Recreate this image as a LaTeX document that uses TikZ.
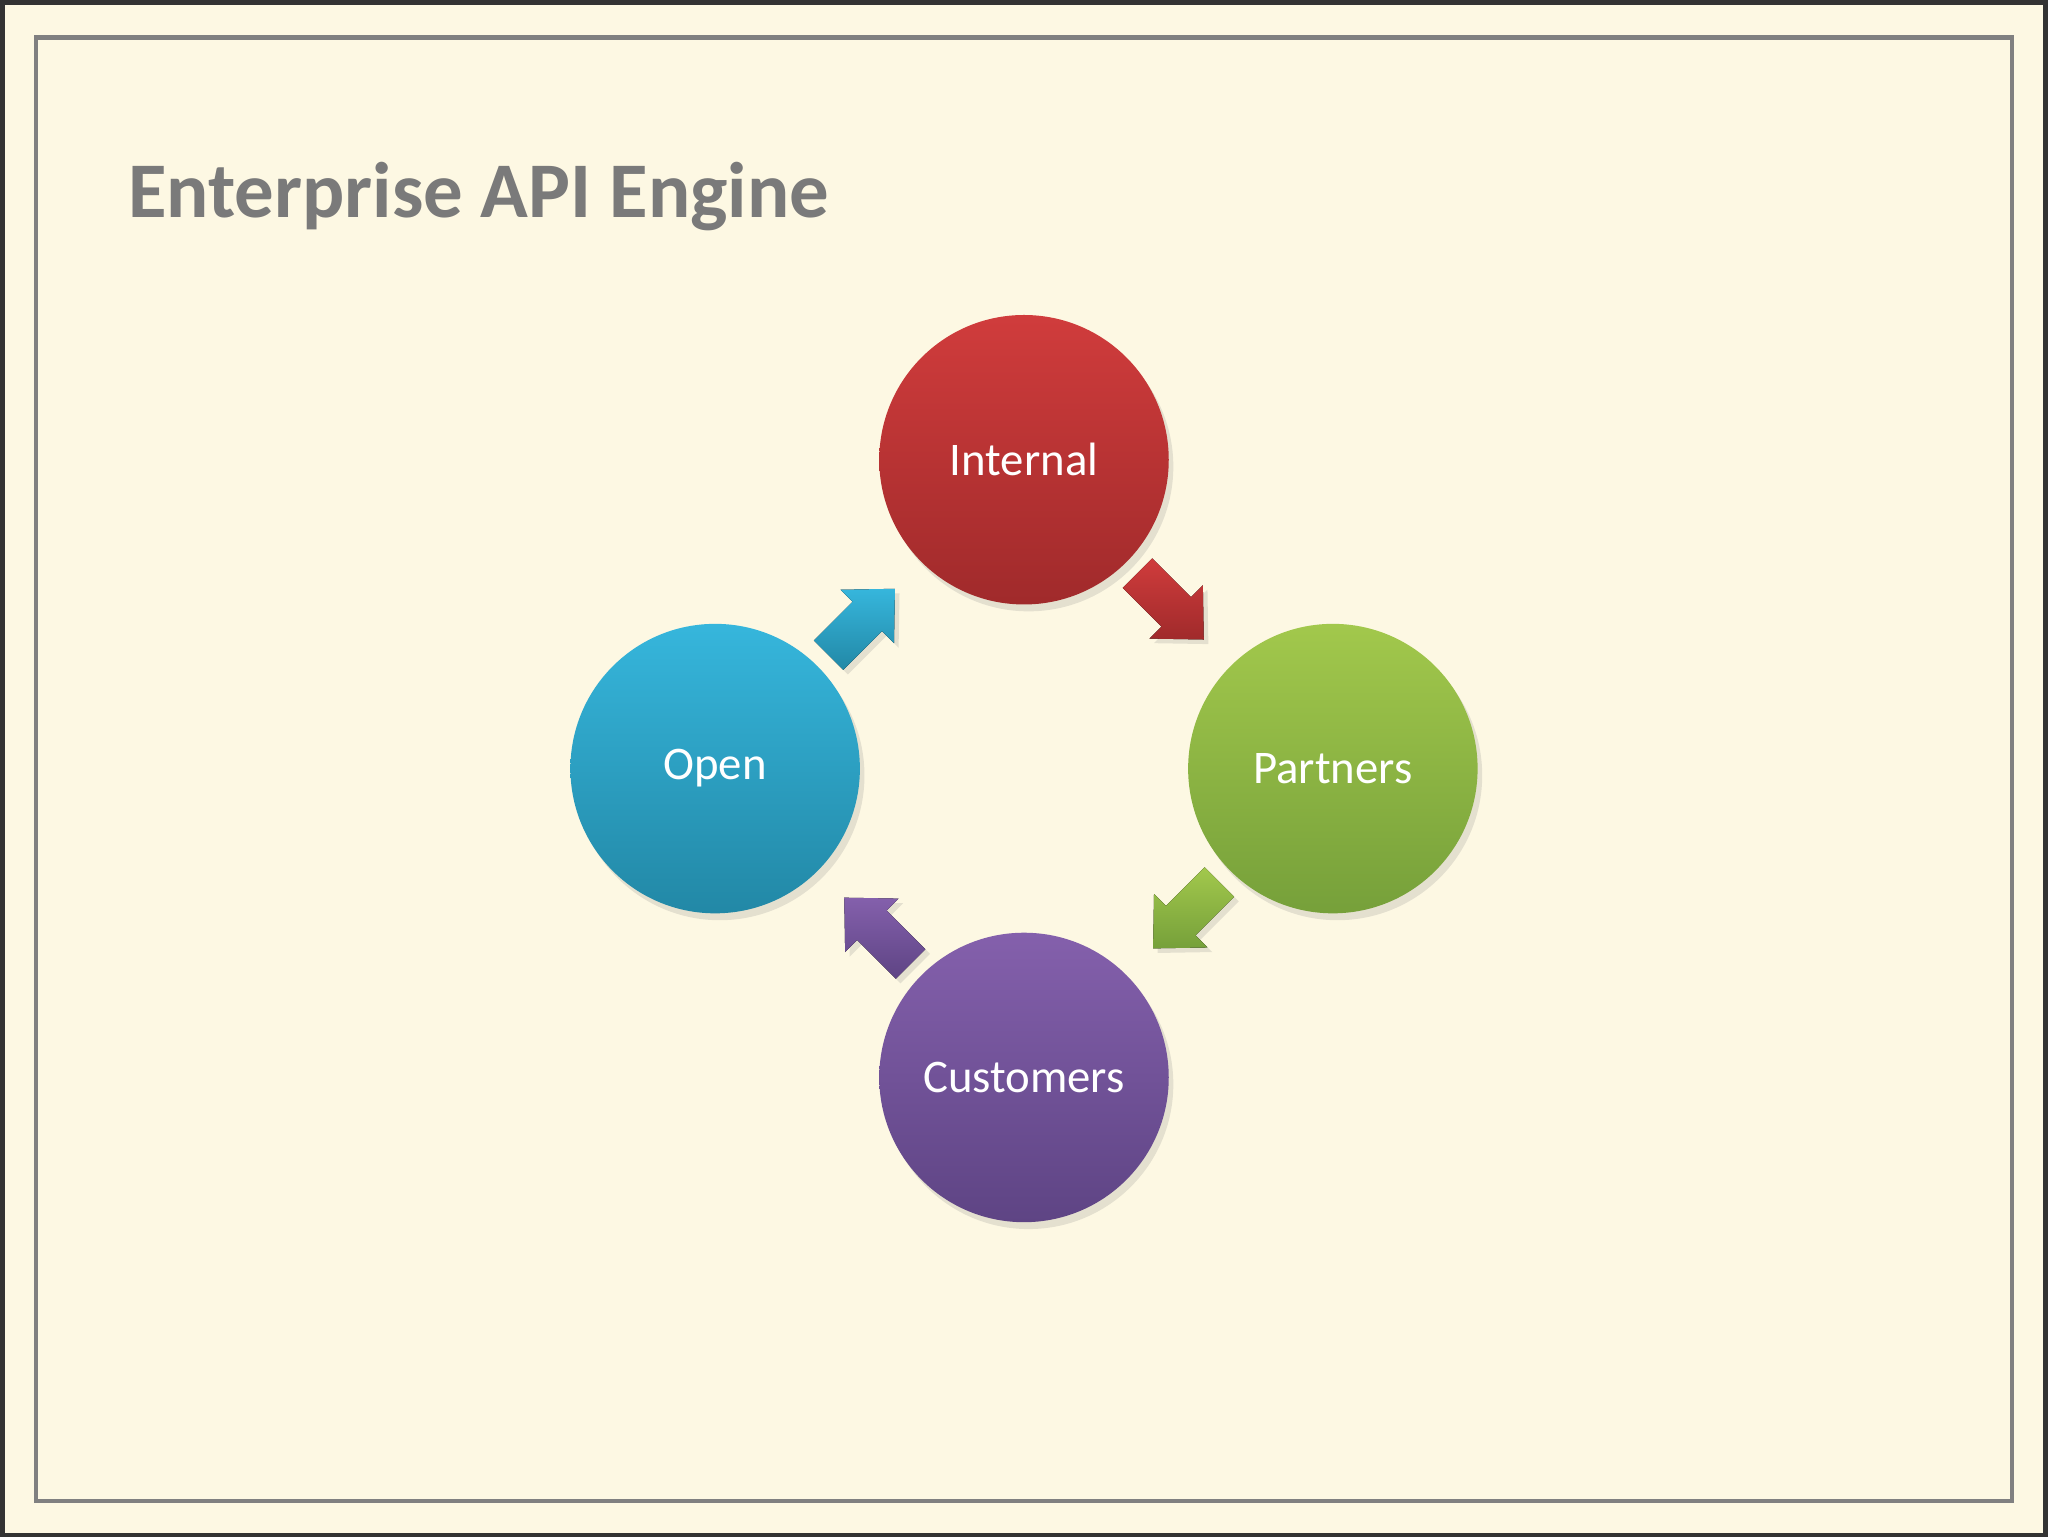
\documentclass[tikz,border=0pt]{standalone}
\usepackage{fontspec}
\setmainfont{Carlito}
\usetikzlibrary{calc,shadows}
\definecolor{bg}{HTML}{FDF8E3}
\definecolor{rT}{HTML}{D03C3C}\definecolor{rB}{HTML}{A02A2B}
\definecolor{gT}{HTML}{A2C84C}\definecolor{gB}{HTML}{76A03A}
\definecolor{pT}{HTML}{8460AC}\definecolor{pB}{HTML}{5E4484}
\definecolor{bT}{HTML}{36B6DC}\definecolor{bB}{HTML}{2288A6}
\tikzset{
  ball/.style={circle,minimum size=2.22cm,inner sep=0pt,text=white,font=\fontsize{10.2}{12}\selectfont,
    drop shadow={shadow xshift=1pt,shadow yshift=-1.5pt,opacity=0.2}}
}
\begin{document}
\begin{tikzpicture}[x=0.01cm,y=-0.01cm]
\fill[bg] (0,0) rectangle (1568,1176);
\draw[black!80,line width=1pt] (0,0) rectangle (1568,1176);
\draw[gray,line width=1pt] (26,27) rectangle (1542,1150);
\node[anchor=base west,inner sep=0pt,text=black!52,font=\fontsize{17.2}{20}\selectfont\bfseries] (title) at (96,165) {Enterprise API Engine};
\node[ball,top color=rT,bottom color=rB] (int) at (784,351) {Internal};
\node[ball,top color=gT,bottom color=gB] (par) at (1021,588) {Partners};
\node[ball,top color=pT,bottom color=pB] (cus) at (784,825) {Customers};
\node[ball,top color=bT,bottom color=bB] (ope) at (547,588) {Open};
\foreach \a/\b/\ang/\ct/\cb/\dx/\dy in {int/par/-45/rT/rB/-6/-6, par/cus/-135/gT/gB/6/-6, cus/ope/135/pT/pB/6/6, ope/int/45/bT/bB/-6/6}{
  \fill[top color=\ct,bottom color=\cb,drop shadow={shadow xshift=1pt,shadow yshift=-1pt,opacity=0.2}]
    [shift={($(\a)!0.5!(\b)+(\dx,\dy)$)},rotate=\ang]
    (-36,-16) -- (6,-16) -- (6,-29) -- (36,0) -- (6,29) -- (6,16) -- (-36,16) -- cycle;
}
\end{tikzpicture}
\end{document}
